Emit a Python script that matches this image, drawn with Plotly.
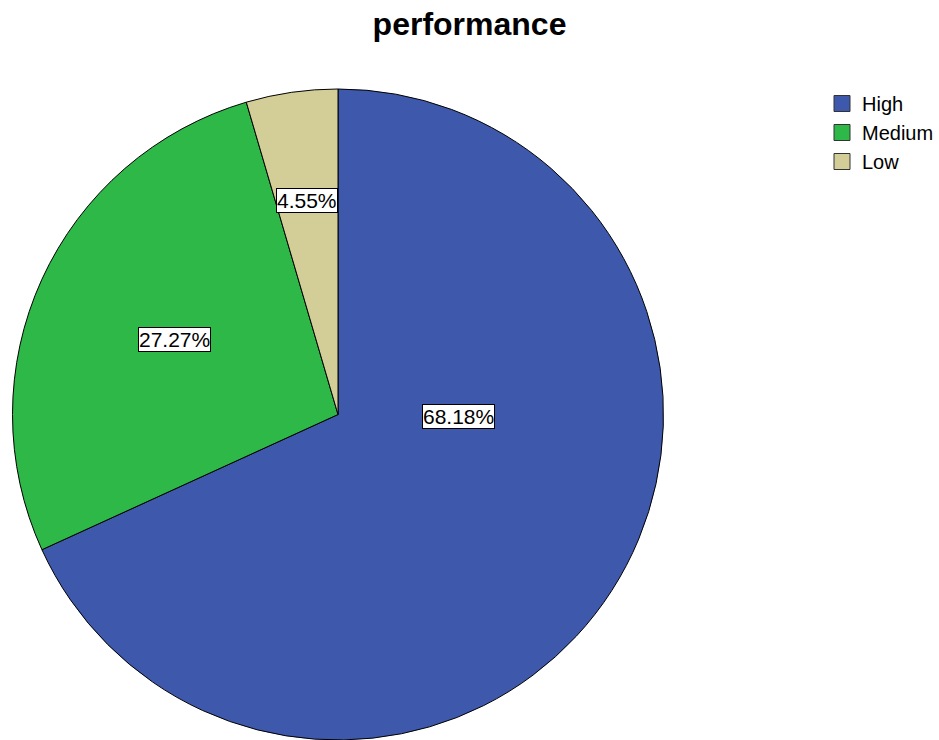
import math
import plotly.graph_objects as go

# ---- data ----
categories = ["High", "Medium", "Low"]
counts = [15, 6, 1]
colors = ["#3E58AC", "#2EB848", "#D3CE97"]

W, H = 939, 740
# pie geometry (pixels)
pie_left, pie_right = 11, 665
pie_top = 89
cx_px = (pie_left + pie_right) / 2
r_px = (H - pie_top) / 2
cy_px = pie_top + r_px

fig = go.Figure(go.Pie(
    labels=categories,
    values=counts,
    marker=dict(colors=colors, line=dict(color="black", width=1)),
    sort=False,
    direction="clockwise",
    rotation=0,
    textinfo="none",
    hoverinfo="label+percent",
    showlegend=False,
    domain=dict(x=[pie_left / W, pie_right / W], y=[0, 1 - pie_top / H]),
))

# legend entries (larger square swatches)
for name, col in zip(categories, colors):
    fig.add_trace(go.Scatter(
        x=[None], y=[None], mode="markers", name=name,
        marker=dict(symbol="square", size=16, color=col,
                    line=dict(color="#333333", width=1)),
        showlegend=True, hoverinfo="skip",
    ))

# percentage labels in boxes, placed along each slice's angle
total = sum(counts)
label_radius_frac = [0.37, 0.552, 0.663]
label_angle_shift = [-31.7, 0, 0]
cum = 0
for i, v in enumerate(counts):
    mid = (cum + v / 2) / total * 360 + label_angle_shift[i]
    cum += v
    a = math.radians(mid)
    dx = label_radius_frac[i] * r_px * math.sin(a)
    dy = label_radius_frac[i] * r_px * math.cos(a)
    fig.add_annotation(
        x=(cx_px + dx) / W, y=1 - (cy_px - dy) / H,
        xref="paper", yref="paper",
        text=f"{v / total * 100:.2f}%",
        showarrow=False,
        font=dict(family="Liberation Sans, Arial", size=21, color="black"),
        bgcolor="white", bordercolor="black", borderwidth=1, borderpad=0,
        xanchor="center", yanchor="middle",
    )

fig.update_layout(
    width=W, height=H,
    margin=dict(l=0, r=0, t=0, b=0),
    paper_bgcolor="white",
    plot_bgcolor="white",
    xaxis=dict(visible=False),
    yaxis=dict(visible=False),
    title=dict(
        text="<b>performance</b>",
        x=0.5, xanchor="center",
        y=1 - 24 / H, yanchor="middle",
        font=dict(family="Liberation Sans, Arial", size=32, color="black"),
    ),
    legend=dict(
        x=822 / W, y=1 - 84 / H, xanchor="left", yanchor="top",
        font=dict(family="Liberation Sans, Arial", size=20, color="black"),
        bgcolor="rgba(0,0,0,0)",
        itemsizing="trace",
    ),
    showlegend=True,
)

fig.write_html("out.html")
